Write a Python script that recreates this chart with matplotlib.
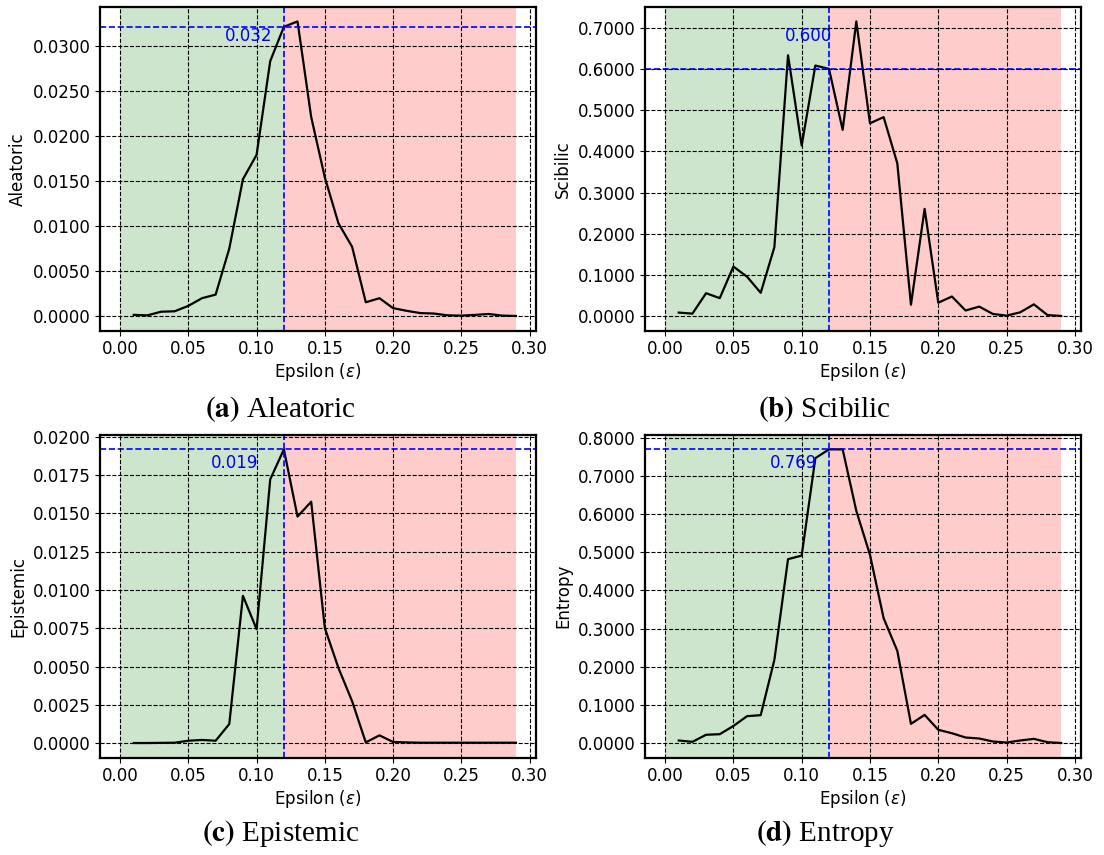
import numpy as np
import matplotlib
matplotlib.use('Agg')
import matplotlib.pyplot as plt
from matplotlib.ticker import FormatStrFormatter

eps = [0.01, 0.02, 0.03, 0.04, 0.05, 0.06, 0.07, 0.08, 0.09, 0.10,
       0.11, 0.12, 0.13, 0.14, 0.15, 0.16, 0.17, 0.18, 0.19, 0.20,
       0.21, 0.22, 0.23, 0.24, 0.25, 0.26, 0.27, 0.28, 0.29]

aleatoric = [0.00015, 0.0001, 0.0005, 0.00055, 0.00115, 0.0020, 0.0024, 0.0075, 0.0152, 0.0179,
             0.0283, 0.0321, 0.0327, 0.0221, 0.0154, 0.0103, 0.0077, 0.00155, 0.0020, 0.0009,
             0.0006, 0.00035, 0.0003, 0.0001, 0.00007, 0.00015, 0.00025, 0.00007, 0.00003]

scibilic = [0.009, 0.0065, 0.056, 0.044, 0.1205, 0.096, 0.057, 0.1675, 0.633, 0.414,
            0.608, 0.600, 0.452, 0.715, 0.468, 0.483, 0.371, 0.028, 0.2605, 0.033,
            0.048, 0.014, 0.0235, 0.0057, 0.0016, 0.0097, 0.029, 0.003, 0.0008]

epistemic = [0.0, 0.0, 0.00001, 0.00002, 0.00015, 0.0002, 0.00015, 0.00124, 0.00962, 0.00744,
             0.01723, 0.01919, 0.0148, 0.01577, 0.00752, 0.0049, 0.00273, 0.00004, 0.0005, 0.00007,
             0.00004, 0.00002, 0.00002, 0.00002, 0.00002, 0.00002, 0.00002, 0.00002, 0.00002]

entropy = [0.007, 0.0035, 0.022, 0.0235, 0.045, 0.0707, 0.0733, 0.218, 0.4817, 0.491,
           0.746, 0.769, 0.769, 0.608, 0.493, 0.327, 0.2417, 0.0506, 0.074, 0.035,
           0.026, 0.0148, 0.0122, 0.0044, 0.0017, 0.007, 0.0113, 0.0026, 0.0004]

names = ['Aleatoric', 'Scibilic', 'Epistemic', 'Entropy']
letters = ['a', 'b', 'c', 'd']
series = [aleatoric, scibilic, epistemic, entropy]
threshold = 0.12

# where the value labels sit (x centre, baseline y)
label_pos = [(0.0945, 0.03048), (0.1047, 0.6675), (0.0842, 0.01799), (0.0943, 0.720)]

fig = plt.figure(figsize=(11.04, 8.55), dpi=100)
W, H = 1104, 855
boxes = [(100.3, 6.7, 535.7, 330.7), (645.3, 6.7, 1081, 330.7),
         (100.3, 434.7, 535.7, 757.7), (645.3, 434.7, 1081, 757.7)]
cap_pos = [(280, 409), (825, 409), (281, 833), (825, 833)]

for i in range(4):
    x0, y0, x1, y1 = boxes[i]
    ax = fig.add_axes([x0 / W, 1 - y1 / H, (x1 - x0) / W, (y1 - y0) / H])
    y = series[i]
    ax.axvspan(0, threshold, color='green', alpha=0.2, lw=0)
    ax.axvspan(threshold, eps[-1], color='red', alpha=0.2, lw=0)
    ax.plot(eps, y, color='black', lw=1.6)
    thr_val = y[eps.index(threshold)]
    ax.axhline(thr_val, color='blue', ls='--', lw=1.2)
    ax.axvline(threshold, color='blue', ls='--', lw=1.2)
    lx, ly = label_pos[i]
    ax.text(lx, ly, f'{thr_val:.3f}', color='blue', fontsize=12, ha='center', va='baseline')
    ax.set_xlim(-0.0145, 0.3045)
    ax.set_xticks([0.0, 0.05, 0.10, 0.15, 0.20, 0.25, 0.30])
    ax.xaxis.set_major_formatter(FormatStrFormatter('%.2f'))
    ax.yaxis.set_major_formatter(FormatStrFormatter('%.4f'))
    ax.grid(True, color='black', ls='--', lw=0.8)
    ax.set_axisbelow(False)
    ax.tick_params(labelsize=12)
    for s in ax.spines.values():
        s.set_linewidth(1.6)
    ax.set_xlabel(r'Epsilon ($\epsilon$)', fontsize=12, labelpad=2, math_fontfamily='dejavusans')
    ax.set_ylabel(names[i], fontsize=12)
    cx, cy = cap_pos[i]
    fig.text(cx / W, 1 - cy / H, r'$\mathbf{(' + letters[i] + ')}$ ' + names[i],
             fontsize=21, family='Liberation Serif', math_fontfamily='stix',
             ha='center', va='center')

fig.savefig('out.png', dpi=100)
